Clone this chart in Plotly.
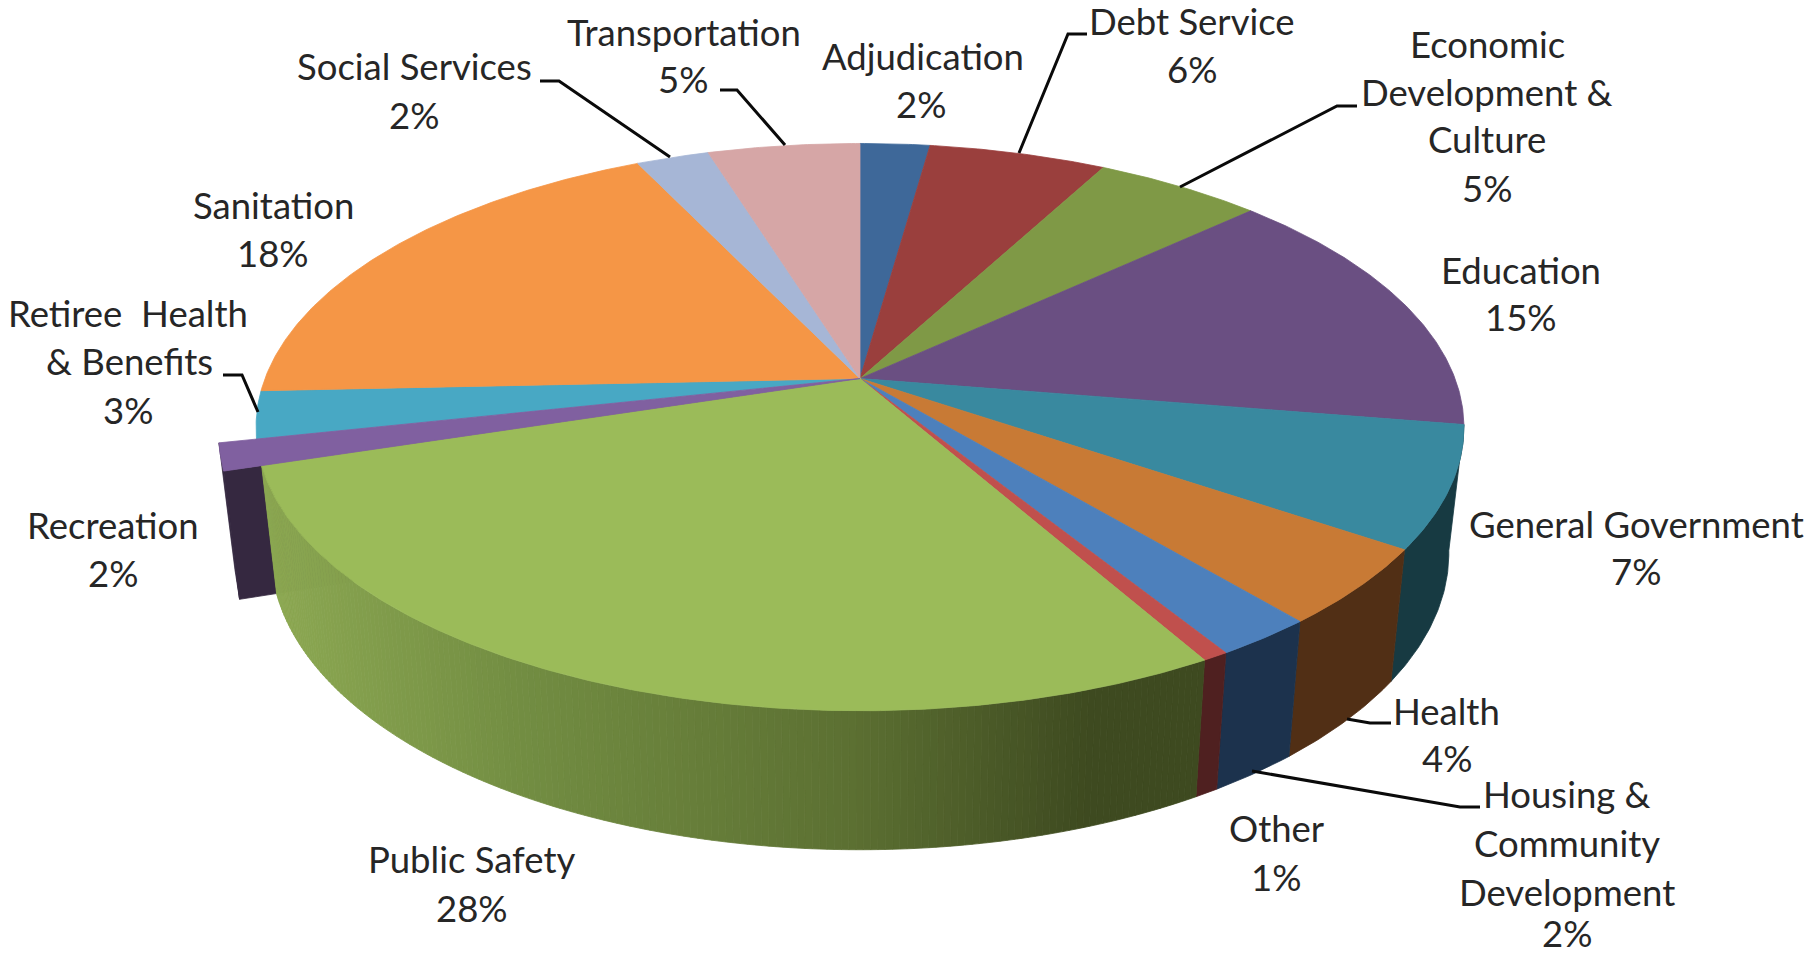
import math
import plotly.graph_objects as go

# ---- data ----
categories = ["Adjudication", "Debt Service", "Economic Development & Culture", "Education",
              "General Government", "Health", "Housing & Community Development", "Other",
              "Public Safety", "Recreation", "Retiree Health & Benefits", "Sanitation",
              "Social Services", "Transportation"]
shares = [2.2, 5.6, 5.3, 14.5, 6.9, 4.4, 2.3, 0.6, 28.35, 1.45, 2.7, 18.6, 2.3, 4.8]
top_colors = ["#3e6899", "#9a3f3d", "#7f9946", "#6a4f82", "#39899f", "#c87a35", "#4d80bc",
              "#c0504d", "#9bbb59", "#8060a0", "#48a8c4", "#f59646", "#a6b6d6", "#d6a6a6"]
wall_colors = {"General Government": "#173a42", "Health": "#512f15",
               "Housing & Community Development": "#1c324d", "Other": "#4f2020"}
exploded = "Recreation"
gradient_stops = [(262, (0x8c, 0xa8, 0x52)), (520, (0x72, 0x8d, 0x42)), (850, (0x5c, 0x70, 0x32)),
                  (1090, (0x3e, 0x4a, 0x20)), (1200, (0x3e, 0x4a, 0x20))]
rec_side_color = "#352840"

# label lines: text, centre x, centre y (measured on the 1568-wide view)
label_lines = [
    ("Transportation", 591, 29), ("5%", 590, 70),
    ("Adjudication", 797, 50), ("2%", 796, 92),
    ("Debt Service", 1030, 20), ("6%", 1030, 61),
    ("Economic", 1285, 40), ("Development &", 1285, 81), ("Culture", 1285, 122), ("5%", 1285, 164),
    ("Education", 1314, 235), ("15%", 1314, 276),
    ("General Government", 1414, 454), ("7%", 1413, 495),
    ("Health", 1250, 616), ("4%", 1250, 657),
    ("Housing &", 1354, 688), ("Community", 1354, 730), ("Development", 1354, 772), ("2%", 1354, 808),
    ("Other", 1103, 717), ("1%", 1102, 759),
    ("Public Safety", 408, 744), ("28%", 408, 786),
    ("Recreation", 98, 455), ("2%", 98, 497),
    ("Retiree&nbsp; Health", 111, 272), ("& Benefits", 112, 314), ("3%", 111, 356),
    ("Sanitation", 236, 179), ("18%", 236, 220),
    ("Social Services", 358, 59), ("2%", 358, 101),
]
SCALE = 1815 / 1568
LABEL_SHIFT = -2.0

# leader lines (pixel paths)
leaders = [
    ([540, 559, 670], [81, 81, 157]),
    ([720, 737, 785], [90, 90, 145]),
    ([1087, 1068, 1019], [34, 34, 153]),
    ([1357, 1337, 1180], [106, 106, 187]),
    ([223, 242, 258], [375, 375, 412]),
    ([1391, 1370, 1347], [723, 723, 719]),
    ([1480, 1460, 1252], [807, 807, 771]),
]

# ---- projection of the tilted disc ----
CX, CY = 860.0, 378.5
A, B, K = 595.0, 275.3, 0.1714
X_SHRINK, Y_GAIN, Y_DROP = 0.975, 1.045, 107.0
EXPLODE = 1.06


def top_point(deg, r=1.0):
    t = math.radians(deg)
    x, y = r * math.sin(t), -r * math.cos(t)  # y positive towards the viewer
    d = 1 - K * y
    return CX + A * x / d, CY + B * y / d


def drop(p):
    return CX + X_SHRINK * (p[0] - CX), p[1] * Y_GAIN + Y_DROP


def arc(d0, d1, r=1.0):
    n = max(2, int(abs(d1 - d0) / 0.5) + 1)
    return [top_point(d0 + (d1 - d0) * i / n, r) for i in range(n + 1)]


def poly(pts, color):
    return go.Scatter(x=[p[0] for p in pts] + [pts[0][0]], y=[p[1] for p in pts] + [pts[0][1]],
                      mode="lines", fill="toself", fillcolor=color,
                      line=dict(color=color, width=0.8), hoverinfo="skip", showlegend=False)


def grad(x):
    if x <= gradient_stops[0][0]:
        c = gradient_stops[0][1]
    elif x >= gradient_stops[-1][0]:
        c = gradient_stops[-1][1]
    else:
        for (x0, c0), (x1, c1) in zip(gradient_stops, gradient_stops[1:]):
            if x0 <= x <= x1:
                f = (x - x0) / (x1 - x0)
                c = tuple(c0[i] + (c1[i] - c0[i]) * f for i in range(3))
                break
    return "rgb(%d,%d,%d)" % tuple(round(v) for v in c)


total = sum(shares)
edges = [0.0]
for s in shares:
    edges.append(edges[-1] + s / total * 360)
span = {c: (edges[i], edges[i + 1]) for i, c in enumerate(categories)}

fig = go.Figure()

# exploded slice: its cut face sits behind everything else
e0, e1 = span[exploded]
outer = top_point(e0, EXPLODE)
centre = (CX, CY)
fig.add_trace(poly([outer, top_point(e1, EXPLODE), drop(top_point(e1, EXPLODE)), drop(outer)], rec_side_color))
fig.add_trace(poly([outer, centre, drop(centre), drop(outer)], rec_side_color))

# side walls, facing the viewer
for name, color in wall_colors.items():
    a0, a1 = span[name]
    top = arc(a0, a1)
    fig.add_trace(poly(top + [drop(p) for p in reversed(top)], color))
a0, a1 = span["Public Safety"]
step = 0.6
n = int((a1 - a0) / step) + 1
for i in range(n):
    d0 = a0 + (a1 - a0) * i / n
    d1 = a0 + (a1 - a0) * (i + 1) / n
    top = arc(d0, d1)
    xm = (top[0][0] + top[-1][0]) / 2
    fig.add_trace(poly(top + [drop(p) for p in reversed(top)], grad(xm)))

# top faces
for i, name in enumerate(categories):
    if name == exploded:
        continue
    a0, a1 = span[name]
    fig.add_trace(poly([centre] + arc(a0, a1), top_colors[i]))
fig.add_trace(poly([centre] + arc(e0, e1, EXPLODE), top_colors[categories.index(exploded)]))

# leader lines
for xs, ys in leaders:
    fig.add_trace(go.Scatter(x=xs, y=ys, mode="lines", line=dict(color="#0a0a0a", width=3),
                             hoverinfo="skip", showlegend=False))

for text, x, y in label_lines:
    fig.add_annotation(x=x * SCALE, y=y * SCALE + LABEL_SHIFT, text=text, showarrow=False, xanchor="center",
                       yanchor="middle", font=dict(family="Lato", size=36.5, color="#262626"))

fig.update_layout(width=1815, height=955, margin=dict(l=0, r=0, t=0, b=0),
                  paper_bgcolor="white", plot_bgcolor="white", showlegend=False,
                  xaxis=dict(range=[0, 1815], visible=False, fixedrange=True),
                  yaxis=dict(range=[955, 0], visible=False, fixedrange=True))
fig.write_html("out.html", config={"displayModeBar": False},
               post_script="document.body.style.margin='0';document.documentElement.style.overflow='hidden';")
